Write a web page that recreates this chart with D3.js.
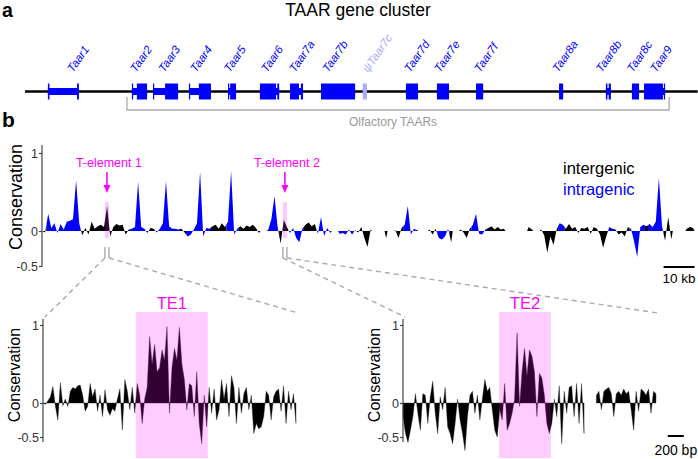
<!DOCTYPE html>
<html><head><meta charset="utf-8">
<script src="https://cdn.jsdelivr.net/npm/d3@7"></script>
<style>
body{margin:0;background:#fff}
svg text{font-family:"Liberation Sans",Arial,Helvetica,sans-serif}
</style>
</head><body>
<svg id="chart" width="698" height="459"></svg>
<script>
// ---------- Panel a: gene cluster (positions in kb) ----------
const geneNames = ["Taar1","Taar2","Taar3","Taar4","Taar5","Taar6","Taar7a","Taar7b","ψTaar7c","Taar7d","Taar7e","Taar7f","Taar8a","Taar8b","Taar8c","Taar9"];
const geneStart = [1.9,29.0,35.8,47.4,60.0,70.3,80.0,90.0,103.5,117.4,127.4,140.0,166.8,181.9,190.3,194.2];
const geneEnd   = [11.9,33.9,43.9,54.5,62.6,76.5,84.2,101.0,104.8,121.3,131.3,142.3,168.1,183.5,192.6,201.0];
const geneExons = [[[1.9,2.4],[11.3,11.9]],[[29.0,29.4],[30.6,33.9]],[[35.8,36.1],[39.7,43.9]],[[47.4,47.7],[50.6,54.5]],
  [[60.0,60.3],[60.7,62.6]],[[70.3,75.5],[75.9,76.5]],[[80.0,82.9],[83.5,84.2]],[[90.0,101.0]],[[103.5,104.8]],
  [[117.4,121.3]],[[127.4,131.3]],[[140.0,142.3]],[[166.8,168.1]],[[181.9,182.4],[182.8,183.5]],[[190.3,192.6]],
  [[194.2,200.3],[200.6,201.0]]];
const geneLabelAt = [10.0,30.3,39.4,49.7,60.6,72.6,81.6,92.3,105.2,118.7,128.4,141.3,166.5,180.6,190.6,198.1];
const pseudoGenes = ["ψTaar7c"];
const olfactoryRange = [27.4, 202.3];

// ---------- Panel b top: conservation per 1 kb ----------
const topValues = [
 0,-0.02,0.22,0.04,0.1,-0.03,0.09,0.02,0.12,0.13,
 0.15,0.65,0.1,-0.06,0.04,-0.05,0.12,0.03,0.06,0.08,
 0.05,0.32,-0.08,0.05,0.09,0.07,0.08,-0.05,0.02,0.03,
 0.05,0.63,0.05,0.03,-0.03,0.04,0.03,-0.02,0.03,0.1,
 0.64,0.06,0.03,0.03,0.02,0.03,-0.02,-0.08,-0.05,0.02,
 0.1,0.76,-0.08,0.04,0.03,0.06,0.08,0.03,0.1,0.05,
 0.12,0.77,-0.05,0.03,0.06,0.03,0.07,0.05,0.08,0.04,
 -0.03,null,null,0.02,0.15,0.45,0.05,-0.18,0.14,0.05,
 -0.03,0.04,-0.1,-0.16,0.03,0.08,0.11,0.06,0.09,-0.04,
 0.18,-0.07,0.04,-0.03,null,null,-0.04,-0.03,-0.05,0.02,
 -0.05,0.01,-0.02,0.05,-0.1,-0.23,0.02,null,null,null,
 null,-0.1,null,null,0.01,-0.1,0.04,0.08,0.32,-0.05,
 0.03,0.01,null,null,null,0.02,-0.05,0.03,-0.1,-0.12,
 -0.08,0.03,-0.16,null,null,0.02,-0.02,-0.1,0.03,0.08,
 0.22,-0.04,-0.05,0.02,0.04,0.06,0.02,0.05,0.02,0.03,
 null,null,null,null,null,null,null,0.05,0.02,null,
 null,0.02,-0.06,-0.31,-0.08,-0.2,0.02,0.1,0.08,0.03,
 0.09,0.03,0.05,-0.03,0.04,0.03,0.05,-0.04,0.05,0.03,
 -0.05,-0.24,-0.08,0.05,0.03,0.02,-0.05,-0.02,-0.08,0.05,
 0.03,-0.15,-0.37,0.05,0.08,0.06,0.09,0.05,0.12,0.68,
 0.06,-0.14,0.18,-0.12,null,null,null,null,0.03,0.05,0.04];
// k = intergenic, b = intragenic, - = no data
const topTypes =
 "kkbbbbbbbb"+"bbbkkkkkkk"+"kkkkkkkkkb"+"bbbbbkkbbb"+"bbbbbkkbbb"+
 "bbbbbkkkkk"+"bbbbkkkkkk"+"k--bbbbkkk"+"bbbbbkkkkb"+"bbbb--bbbb"+
 "bkkkkkk---"+"-k--kkkbbb"+"bk---kkkbb"+"bbk--kkkkb"+"bbbbkkkkkk"+
 "-------kk-"+"-kkkkkkbbk"+"kkkkkkkkkk"+"kkkbbkkkkk"+"bbbbbkbbbb"+"bkkk----kkk";
const teTop = [[20.3,21.6],[77.7,79.0]];
const teNames = ["T-element 1","T-element 2"];

// ---------- Panel b bottom: zoomed T-elements (31 bp per sample) ----------
const te1Values = [
 0,-0.02,0.03,0.08,0.21,-0.05,-0.25,0.26,-0.04,0.05,
 -0.05,0.15,0.2,0.18,0.22,0.23,0.1,-0.12,-0.05,0.25,
 0.08,0.18,-0.12,0.1,-0.2,0.17,-0.1,-0.18,-0.08,-0.12,
 0.05,0.18,-0.4,0.3,0.15,-0.1,0.2,-0.15,0.25,0.1,
 -0.3,0.05,0.2,0.85,0.5,0.75,0.4,0.45,0.68,0.55,
 0.98,-0.15,0.45,0.7,0.55,0.97,0.5,0.3,-0.1,0.25,
 0.22,-0.2,0.4,-0.3,-0.6,0.1,-0.35,0.2,-0.15,0.18,
 -0.25,-0.1,0.3,0.05,0.25,-0.2,0.35,0.2,-0.3,0.2,
 -0.15,0.12,0.2,-0.1,0.1,-0.45,-0.3,-0.38,-0.35,-0.2,
 0.15,0.1,-0.25,0.08,0.15,0.18,-0.12,0.22,-0.3,0.15,
 -0.1,0.12,-0.3];
const te2Values = [
 -0.2,-0.45,-0.58,-0.4,-0.2,0.12,-0.15,-0.4,0.12,0.1,
 -0.3,0.08,0.28,-0.15,-0.45,0.08,-0.1,0.2,-0.35,-0.45,
 -0.6,-0.3,0.05,-0.25,-0.45,-0.7,-0.2,0.1,0.15,-0.15,
 0.1,-0.25,0.05,0.3,0.15,0.2,-0.1,-0.4,-0.5,-0.1,
 -0.25,0.25,-0.4,-0.3,-0.15,0.05,0.9,-0.05,0.4,0.7,
 0.35,0.68,0.6,0.4,-0.2,0.38,0.32,0.1,-0.3,-0.45,
 -0.3,0.05,-0.2,0.22,-0.6,0.15,-0.15,0.2,0.22,-0.2,
 0.25,-0.3,0.25,-0.45,null,null,null,null,0.1,0.15,
 -0.1,0.15,0.18,0.2,0.12,-0.2,0.12,0.15,0.1,0.18,
 0.12,0.15,-0.1,-0.4,0.15,-0.12,0.18,0.15,0.1,0.18,
 -0.15,0.15,0.12];
const te1Box = [1160, 2060];
const te2Box = [1200, 1850];
const zoomNames = ["TE1","TE2"];
const yTicks = [-0.5, 0, 1];
const bpStep = 31;

// ---------- drawing ----------
const svg = d3.select("#chart");
const BLUE = "#0000ff", MAG = "#ff00ff", GRAY = "#aaaaaa";

// panel letters & title
svg.append("text").attr("x",2).attr("y",17).attr("font-size",19.5).attr("font-weight","bold").text("a");
svg.append("text").attr("x",2).attr("y",127).attr("font-size",21).attr("font-weight","bold").text("b");
svg.append("text").attr("x",358).attr("y",16).attr("font-size",17.5).attr("text-anchor","middle").text("TAAR gene cluster");

const x = d3.scaleLinear().domain([0,210]).range([42,693]);
const trackY = 91.5;
svg.append("line").attr("x1",x(-5.5)).attr("x2",x(211.5)).attr("y1",trackY).attr("y2",trackY)
  .attr("stroke","#000").attr("stroke-width",2.6);

geneNames.forEach((name,i)=>{
  const col = pseudoGenes.includes(name) ? "#a9a9ff" : BLUE;
  const g = svg.append("g");
  g.append("rect").attr("x",x(geneStart[i])).attr("width",x(geneEnd[i])-x(geneStart[i]))
    .attr("y",trackY-3.5).attr("height",7).attr("fill",col);
  geneExons[i].forEach(e=>{
    g.append("rect").attr("x",x(e[0])).attr("width",Math.max(1.2,x(e[1])-x(e[0])))
      .attr("y",trackY-8).attr("height",16).attr("fill",col);
  });
  g.append("text").attr("transform",`translate(${x(geneLabelAt[i])},73) rotate(-55)`)
    .attr("font-size",11.5).attr("font-style","italic").attr("fill",col).text(name);
});
// olfactory bracket
svg.append("path").attr("d",`M${x(olfactoryRange[0])},97V110H${x(olfactoryRange[1])}V97`)
  .attr("fill","none").attr("stroke",GRAY).attr("stroke-width",1.3);
svg.append("text").attr("x",393).attr("y",126).attr("font-size",12).attr("fill","#999")
  .attr("text-anchor","middle").text("Olfactory TAARs");

// ---- top conservation track ----
const yT = d3.scaleLinear().domain([-0.5,0,1]).range([266,231,153]);
const types = topTypes.split("");
const runs = [];
for (let i=0;i<topValues.length;i++){
  const v = topValues[i];
  if (v===null) continue;
  const prev = i>0 ? topValues[i-1] : null;
  const next = i<topValues.length-1 ? topValues[i+1] : null;
  if (prev===null || types[i-1]!==types[i]) {
    const run = {type:types[i], pts:[]};
    run.pts.push(prev===null ? [i-0.5,0] : [i-0.5,(prev+v)/2]);
    runs.push(run);
  }
  const run = runs[runs.length-1];
  run.pts.push([i,v]);
  if (next===null || types[i+1]!==types[i]) run.pts.push(next===null ? [i+0.5,0] : [i+0.5,(v+next)/2]);
}
const areaT = d3.area().x(d=>x(d[0])).y0(yT(0)).y1(d=>yT(d[1]));
svg.append("g").selectAll("path").data(runs).join("path")
  .attr("d",d=>areaT(d.pts)).attr("fill",d=>d.type==="b"?BLUE:"#000");

// axis
function yAxis(scale, xPos, top, bottom, fs){
  const g = svg.append("g").attr("transform",`translate(${xPos},0)`)
    .call(d3.axisLeft(scale).tickValues(yTicks).tickSize(3).tickSizeOuter(0)
      .tickFormat(d=>d===-0.5?"-0.5":d3.format("d")(d)));
  g.select(".domain").remove();
  g.append("line").attr("y1",top).attr("y2",bottom).attr("stroke","#444").attr("stroke-width",1.2);
  g.selectAll(".tick line").attr("stroke","#444").attr("stroke-width",1.2);
  g.selectAll(".tick text").attr("font-size",fs).attr("fill","#333").attr("x",-4)
    .style("font-family","'Liberation Sans',Arial,sans-serif");
}
yAxis(yT, 42, 145, 267, 12.5);
svg.append("text").attr("transform","translate(22,197) rotate(-90)").attr("text-anchor","middle")
  .attr("font-size",18).text("Conservation");

// TE highlights + arrows + labels
teTop.forEach((t,i)=>{
  const cx = x((t[0]+t[1])/2);
  svg.append("rect").attr("x",x(t[0])).attr("width",x(t[1])-x(t[0])).attr("y",yT(0.37)).attr("height",yT(-0.1)-yT(0.37))
    .attr("fill",MAG).attr("opacity",0.22);
  svg.append("line").attr("x1",cx).attr("x2",cx).attr("y1",172).attr("y2",187).attr("stroke",MAG).attr("stroke-width",1.6);
  svg.append("path").attr("d",`M${cx-3.5},185L${cx+3.5},185L${cx},193Z`).attr("fill",MAG);
  svg.append("text").attr("x",cx+2).attr("y",166.5).attr("text-anchor","middle").attr("font-size",12.5)
    .attr("fill",MAG).text(teNames[i]);
  [t[0],t[1]].forEach(p=>{
    svg.append("line").attr("x1",x(p)).attr("x2",x(p)).attr("y1",247).attr("y2",258)
      .attr("stroke",GRAY).attr("stroke-width",1.4);
  });
});

// legend
svg.append("text").attr("x",563).attr("y",174).attr("font-size",16.5).attr("fill","#000").text("intergenic");
svg.append("text").attr("x",563).attr("y",195).attr("font-size",16.5).attr("fill",BLUE).text("intragenic");
// 10 kb scale bar
svg.append("line").attr("x1",x(200.5)).attr("x2",x(210.5)).attr("y1",267).attr("y2",267).attr("stroke","#000").attr("stroke-width",2);
svg.append("text").attr("x",x(205.5)).attr("y",283).attr("text-anchor","middle").attr("font-size",13.5).text("10 kb");

// ---- bottom zoom panels ----
const yB = d3.scaleLinear().domain([-0.5,0,1]).range([437,403,325]);
const panels = [
  {vals:te1Values, box:te1Box, x0:43, te:teTop[0], cornerL:[45,317], cornerR:[298,313], labelX:15},
  {vals:te2Values, box:te2Box, x0:403, te:teTop[1], cornerL:[405,317], cornerR:[658,313], labelX:375}
];
panels.forEach((p,k)=>{
  const xb = d3.scaleLinear().domain([0,3200]).range([p.x0, p.x0+256]);
  svg.append("line").attr("x1",x(p.te[0])).attr("y1",258).attr("x2",p.cornerL[0]).attr("y2",p.cornerL[1])
    .attr("stroke",GRAY).attr("stroke-width",1.4).attr("stroke-dasharray","5,4");
  svg.append("line").attr("x1",x(p.te[1])).attr("y1",258).attr("x2",p.cornerR[0]).attr("y2",p.cornerR[1])
    .attr("stroke",GRAY).attr("stroke-width",1.4).attr("stroke-dasharray","5,4");
  const area = d3.area().defined(d=>d!==null).x((d,i)=>xb(i*bpStep)).y0(yB(0)).y1(d=>yB(d));
  svg.append("path").attr("d",area(p.vals)).attr("fill","#000").attr("stroke","#222").attr("stroke-width",0.4);
  svg.append("rect").attr("x",xb(p.box[0])).attr("width",xb(p.box[1])-xb(p.box[0])).attr("y",312).attr("height",146)
    .attr("fill",MAG).attr("opacity",0.2);
  svg.append("text").attr("x",(xb(p.box[0])+xb(p.box[1]))/2).attr("y",309).attr("text-anchor","middle")
    .attr("font-size",16.5).attr("fill",MAG).text(zoomNames[k]);
  yAxis(yB, p.x0, 319, 442, 12.5);
  svg.append("text").attr("transform",`translate(${p.labelX+5},375) rotate(-90)`).attr("text-anchor","middle")
    .attr("font-size",16).text("Conservation");
});
// 200 bp scale bar
const xs = d3.scaleLinear().domain([0,3200]).range([403,659]);
svg.append("line").attr("x1",xs(3310)).attr("x2",xs(3510)).attr("y1",436).attr("y2",436).attr("stroke","#000").attr("stroke-width",2);
svg.append("text").attr("x",xs(3410)).attr("y",455).attr("text-anchor","middle").attr("font-size",14).text("200 bp");
</script>
</body></html>
